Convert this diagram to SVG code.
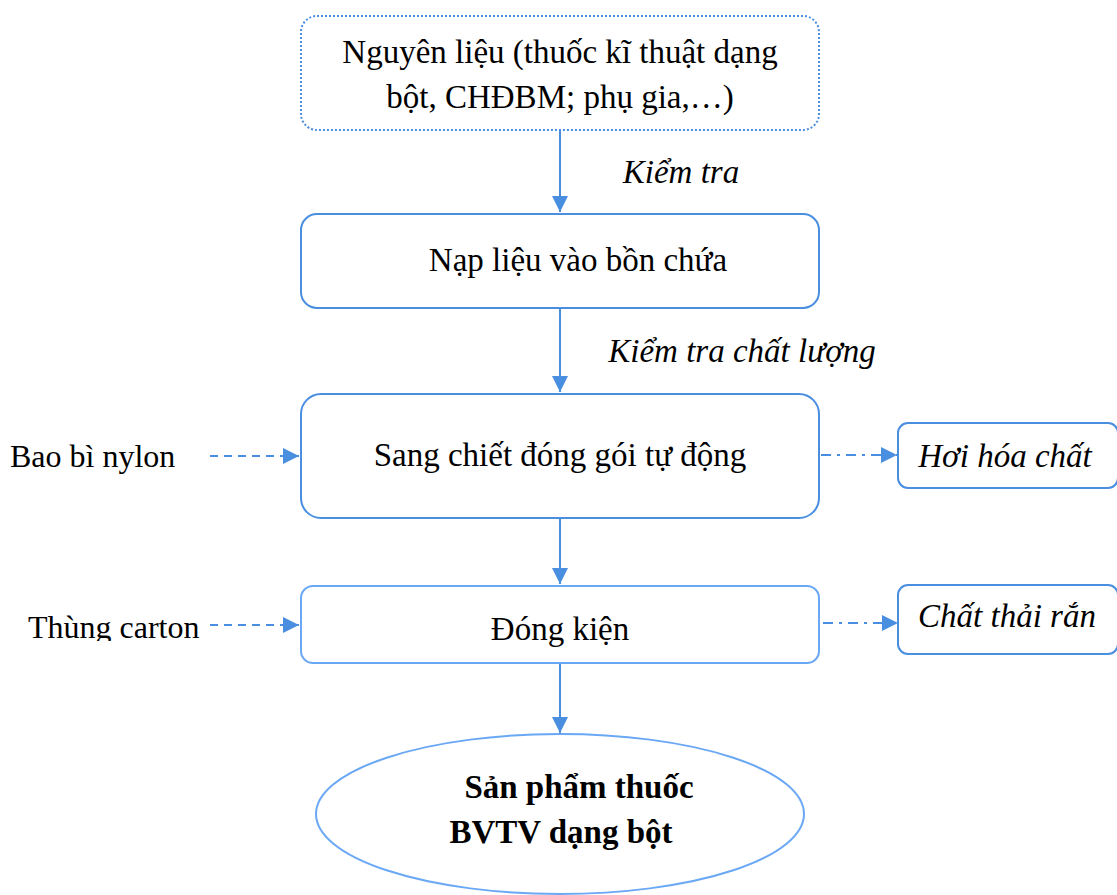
<svg xmlns="http://www.w3.org/2000/svg" width="1117" height="895" viewBox="0 0 1117 895">
  <style>
    text { font-family: 'Liberation Serif', 'Times New Roman', serif; font-size: 33px; fill: #000; }
    .it { font-style: italic; }
    .bd { font-weight: bold; }
    .mid { text-anchor: middle; }
    .side { font-size: 32px; }
    .box { fill: #fff; stroke: #4a8ee0; stroke-width: 2; }
    .light { stroke: #6aa8f5; }
    .flow { stroke: #4a8ee0; stroke-width: 2; fill: none; }
    .dash { stroke: #4a8ee0; stroke-width: 2; fill: none; stroke-dasharray: 8 6; }
    .dashdot { stroke: #4a8ee0; stroke-width: 2; fill: none; stroke-dasharray: 10 6 3 6; }
  </style>
  <defs>
    <marker id="arrBig" viewBox="0 0 16 16" markerWidth="16" markerHeight="16" refX="16" refY="8" orient="auto" markerUnits="userSpaceOnUse">
      <path d="M0,0 L16,8 L0,16 Z" fill="#4a8ee0"/>
    </marker>
    <clipPath id="cartonClip">
      <rect x="0" y="600" width="300" height="41"/>
    </clipPath>
  </defs>

  <!-- connectors and their labels -->
  <g id="connectors">
    <line class="flow" x1="560" y1="130" x2="560" y2="212" marker-end="url(#arrBig)"/>
    <line class="flow" x1="560" y1="308" x2="560" y2="392" marker-end="url(#arrBig)"/>
    <line class="flow" x1="560" y1="518" x2="560" y2="584" marker-end="url(#arrBig)"/>
    <line class="flow" x1="560" y1="663" x2="560" y2="733" marker-end="url(#arrBig)"/>
    <line class="dash" x1="210" y1="456" x2="299" y2="456" marker-end="url(#arrBig)"/>
    <line class="dash" x1="210" y1="625" x2="299" y2="625" marker-end="url(#arrBig)"/>
    <line class="dashdot" x1="821" y1="455" x2="897" y2="455" marker-end="url(#arrBig)"/>
    <line class="dashdot light" x1="823" y1="623" x2="898" y2="623" marker-end="url(#arrBig)"/>
    <text class="it mid" x="681" y="183">Kiểm tra</text>
    <text class="it mid" x="742" y="362">Kiểm tra chất lượng</text>
  </g>

  <g id="node-nguyen-lieu">
    <rect class="box" x="301" y="16" width="518" height="114" rx="16" stroke-dasharray="2 2"/>
    <text class="mid" x="560" y="63">Nguyên liệu (thuốc kĩ thuật dạng</text>
    <text class="mid" x="560" y="108">bột, CHĐBM; phụ gia,…)</text>
  </g>

  <g id="node-nap-lieu">
    <rect class="box" x="301" y="214" width="518" height="94" rx="16"/>
    <text class="mid" x="578" y="271">Nạp liệu vào bồn chứa</text>
  </g>

  <g id="node-sang-chiet">
    <rect class="box" x="301" y="394" width="518" height="124" rx="20"/>
    <text class="mid" x="560" y="466">Sang chiết đóng gói tự động</text>
  </g>

  <g id="node-dong-kien">
    <rect class="box light" x="301" y="586" width="518" height="77" rx="12"/>
    <text class="mid" x="560" y="640">Đóng kiện</text>
  </g>

  <g id="node-san-pham">
    <ellipse class="box light" cx="560" cy="814" rx="244" ry="80"/>
    <text class="bd mid" x="579" y="798">Sản phẩm thuốc</text>
    <text class="bd mid" x="561" y="843">BVTV dạng bột</text>
  </g>

  <g id="node-bao-bi">
    <text class="side" x="10" y="467">Bao bì nylon</text>
  </g>

  <g id="node-thung-carton">
    <text class="side" x="28" y="638" clip-path="url(#cartonClip)">Thùng carton</text>
  </g>

  <g id="node-hoi-hoa-chat">
    <rect class="box" x="898" y="423" width="220" height="65" rx="10"/>
    <text class="it mid" x="1005" y="467">Hơi hóa chất</text>
  </g>

  <g id="node-chat-thai">
    <rect class="box" x="898" y="585" width="220" height="69" rx="10"/>
    <text class="it mid" x="1007" y="627">Chất thải rắn</text>
  </g>
</svg>
